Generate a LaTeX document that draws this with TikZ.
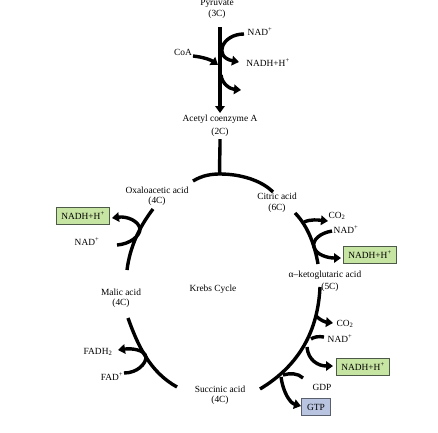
\documentclass[tikz,border=0pt]{standalone}
\usepackage{fontspec}
\setmainfont{Liberation Serif}
\usetikzlibrary{arrows.meta}
\definecolor{nadhfill}{HTML}{C6E4A2}
\definecolor{nadhdraw}{HTML}{4E5A48}
\definecolor{gtpfill}{HTML}{B9C4E0}
\definecolor{gtpdraw}{HTML}{5A5F6E}
\tikzset{
  lbl/.style={font=\fontsize{9.4}{11}\selectfont, inner sep=0pt, align=center},
  nadhbox/.style={lbl, draw=nadhdraw, fill=nadhfill, line width=0.9pt, minimum width=53pt, minimum height=17pt},
  gtpbox/.style={lbl, draw=gtpdraw, fill=gtpfill, line width=0.9pt, minimum width=29pt, minimum height=17pt},
  thick line/.style={line width=3.4pt, line cap=butt},
  arr/.style={thick line, -{Triangle[length=7pt,width=9.5pt]}},
}
\begin{document}
\begin{tikzpicture}[x=1pt,y=-1pt]
\useasboundingbox (0,0) rectangle (438,432);

% ---- labels ----
\node[lbl] (pyr) at (217,3) {Pyruvate};
\node[lbl] (pyrc) at (217,14) {(3C)};
\node[lbl] (nadA) at (260,32) {NAD\textsuperscript{+}};
\node[lbl] (nadhA) at (268,63) {NADH+H\textsuperscript{+}};
\node[lbl] (coa) at (183,52) {CoA};
\node[lbl] (acet) at (220,119) {Acetyl coenzyme A};
\node[lbl] (acetc) at (220,132) {(2C)};
\node[lbl] (oxa) at (157,190) {Oxaloacetic acid};
\node[lbl] (oxac) at (157,201) {(4C)};
\node[lbl] (cit) at (277,196) {Citric acid};
\node[lbl] (citc) at (277,208) {(6C)};
\node[nadhbox] (nadhL) at (83,216) {NADH+H\textsuperscript{+}};
\node[lbl] (nadL) at (87,242) {NAD\textsuperscript{+}};
\node[lbl] (co2A) at (337,216) {CO\textsubscript{2}};
\node[lbl] (nadB) at (346,230) {NAD\textsuperscript{+}};
\node[nadhbox] (nadhB) at (370,255) {NADH+H\textsuperscript{+}};
\node[lbl] (akg) at (325,275) {α–ketoglutaric acid};
\node[lbl] (akgc) at (330,287) {(5C)};
\node[lbl] (mal) at (121,292) {Malic acid};
\node[lbl] (malc) at (121,303) {(4C)};
\node[lbl] (krebs) at (213,289) {Krebs Cycle};
\node[lbl] (fadh) at (98,352) {FADH\textsubscript{2}};
\node[lbl] (fad) at (112,377) {FAD\textsuperscript{+}};
\node[lbl] (suc) at (220,389) {Succinic acid};
\node[lbl] (succ) at (220,400) {(4C)};
\node[lbl] (co2C) at (345,324) {CO\textsubscript{2}};
\node[lbl] (nadC) at (340,339) {NAD\textsuperscript{+}};
\node[nadhbox] (nadhC) at (363,367) {NADH+H\textsuperscript{+}};
\node[lbl] (gdp) at (322,387) {GDP};
\node[gtpbox] (gtp) at (316,407) {GTP};

% ---- coordinates ----
\coordinate (p1) at (220,27);
\coordinate (p2) at (220,113);
\coordinate (na1) at (244,34);
\coordinate (na2) at (239,62);
\coordinate (ca1) at (193,56);
\coordinate (ca2) at (218,65);
\coordinate (xa1) at (221,75);
\coordinate (xa2) at (241,90);
\coordinate (a1) at (220,139);
\coordinate (atop) at (220,174);
\coordinate (arcL) at (193,181);
\coordinate (arcR) at (273,192);
\coordinate (o1) at (153,209);
\coordinate (o2) at (127,270);
\coordinate (on1) at (117,245);
\coordinate (on2) at (112,218);
\coordinate (m1) at (128,318);
\coordinate (m2) at (177,387);
\coordinate (mf1) at (124,373);
\coordinate (mf2) at (118,350);
\coordinate (c1) at (295,213);
\coordinate (c2) at (318,264);
\coordinate (cc1) at (304,222);
\coordinate (cc2) at (328,221);
\coordinate (cn1) at (332,231);
\coordinate (cn2) at (341,258);
\coordinate (s1) at (320,287);
\coordinate (s2) at (260,389);
\coordinate (sc1) at (316,316);
\coordinate (sc2) at (333,323);
\coordinate (sn1) at (324,337);
\coordinate (sn2) at (311,339);
\coordinate (sh1) at (307,347);
\coordinate (sh2) at (333,366);
\coordinate (sg1) at (303,378);
\coordinate (sg2) at (283,375);
\coordinate (st2) at (301,406);

% ---- connectors ----
% pyruvate -> acetyl CoA
\draw[arr] (p1) -- (p2);
\draw[arr] (na1) .. controls (222,34) and (213,57) .. (na2);
\draw[arr] (ca1) .. controls (203,57) and (211,60) .. (ca2);
\draw[arr] (xa1) .. controls (222,84) and (230,89) .. (xa2);

% acetyl CoA + oxaloacetate -> citrate
\draw[thick line] (a1) .. controls (220,160) and (219,168) .. (atop);
\draw[thick line] (arcL) .. controls (203,175) and (212,174) .. (atop)
  .. controls (240,174) and (261,180) .. (arcR);

% malate -> oxaloacetate
\draw[thick line] (o1) .. controls (140,226) and (130,246) .. (o2);
\draw[arr] (on1) .. controls (130,244) and (140,236) .. (140,229)
  .. controls (139,221) and (127,216) .. (on2);

% succinate -> malate
\draw[thick line] (m1) .. controls (138,346) and (150,372) .. (m2);
\draw[arr] (mf1) .. controls (137,373) and (146,364) .. (146,357)
  .. controls (145,350) and (132,348) .. (mf2);

% citrate -> alpha-ketoglutarate
\draw[thick line] (c1) .. controls (308,226) and (315,246) .. (c2);
\draw[arr] (cc1) .. controls (311,219) and (318,220) .. (cc2);
\draw[arr] (cn1) .. controls (320,233) and (312,240) .. (314,247)
  .. controls (316,255) and (328,258) .. (cn2);

% alpha-ketoglutarate -> succinate
\draw[thick line] (s1) .. controls (318,330) and (300,365) .. (s2);
\draw[arr] (sc1) .. controls (320,320) and (325,322) .. (sc2);
\draw[thick line] (sn1) .. controls (318,336) and (314,337) .. (sn2);
\draw[arr] (sh1) .. controls (308,360) and (318,366) .. (sh2);
\draw[thick line] (sg1) .. controls (298,373) and (290,373) .. (sg2);
\draw[arr] (281,377) .. controls (283,392) and (290,403) .. (st2);
\end{tikzpicture}
\end{document}
